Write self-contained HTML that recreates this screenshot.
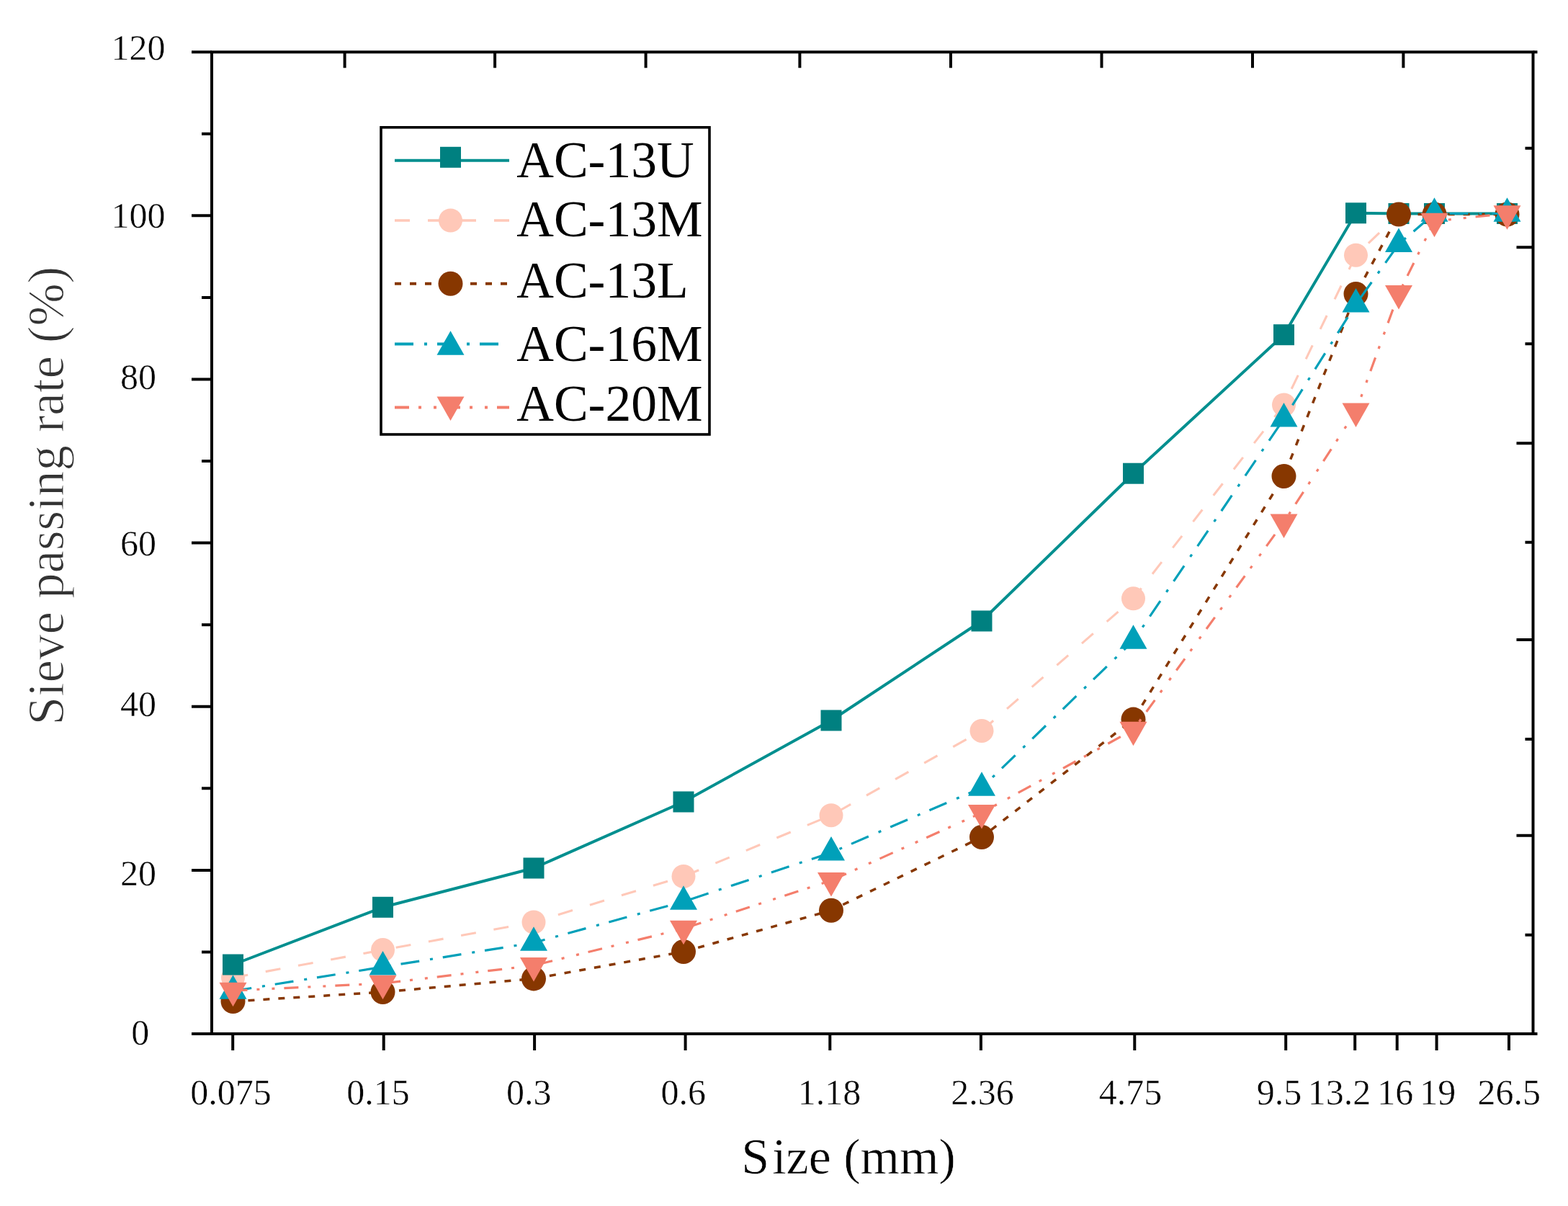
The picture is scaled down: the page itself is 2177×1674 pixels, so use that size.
<!DOCTYPE html>
<html><head><meta charset="utf-8"><title>Sieve passing rate</title>
<style>html,body{margin:0;padding:0;background:#fff;overflow:hidden;}svg{display:block;}text{font-family:"Liberation Serif","Times New Roman",serif;fill:#000;}</style>
</head><body>
<svg width="2177" height="1674" viewBox="0 0 2177 1674">
<rect width="100%" height="100%" fill="#fff"/>
<path d="M294,72.2H2128.5V1435H294Z" fill="none" stroke="#000" stroke-width="4" stroke-linejoin="miter"/>
<path d="M2128.5,72.2H2134.5M2128.5,1435H2134.5" stroke="#000" stroke-width="4" fill="none"/>
<path d="M266,1435.0H294M280,1321.4H294M266,1207.9H294M280,1094.3H294M266,980.7H294M280,867.2H294M266,753.6H294M280,640.0H294M266,526.5H294M280,412.9H294M266,299.3H294M280,185.8H294M266,72.2H294" stroke="#000" stroke-width="4" fill="none"/>
<path d="M2105.5,343.3H2128.5M2105.5,615.2H2128.5M2105.5,887.9H2128.5M2105.5,1159.8H2128.5M2117.5,205.7H2128.5M2117.5,477.2H2128.5M2117.5,752.8H2128.5M2117.5,1025.9H2128.5M2117.5,1297.8H2128.5" stroke="#000" stroke-width="4" fill="none"/>
<path d="M478.6,72.2V94.2M687.1,72.2V94.2M896.6,72.2V94.2M1110.4,72.2V94.2M1320,72.2V94.2M1529.5,72.2V94.2M1739,72.2V94.2M1948.4,72.2V94.2" stroke="#000" stroke-width="4" fill="none"/>
<path d="M323.2,1435V1458M532.7,1435V1458M742.1,1435V1458M951.6,1435V1458M1152.3,1435V1458M1361.9,1435V1458M1575.3,1435V1458M1785.2,1435V1458M1881.2,1435V1458M1939.7,1435V1458M1994.6,1435V1458M2095,1435V1458" stroke="#000" stroke-width="4" fill="none"/>
<g font-size="50" text-anchor="middle" stroke="#fff" stroke-width="0.45">
<text x="194.7" y="1450.3">0</text>
<text x="192" y="1229.2">20</text>
<text x="192" y="994.1">40</text>
<text x="192" y="771.1">60</text>
<text x="192" y="539.8">80</text>
<text x="192" y="316.2">100</text>
<text x="192" y="83.3">120</text>
<text x="320.5" y="1532.9">0.075</text>
<text x="525" y="1532.9">0.15</text>
<text x="734.2" y="1532.9">0.3</text>
<text x="948.7" y="1532.9">0.6</text>
<text x="1151.5" y="1532.9">1.18</text>
<text x="1364" y="1532.9">2.36</text>
<text x="1569.4" y="1532.9">4.75</text>
<text x="1775.9" y="1532.9">9.5</text>
<text x="1859.6" y="1532.9">13.2</text>
<text x="1937.3" y="1532.9">16</text>
<text x="1996.3" y="1532.9">19</text>
<text x="2095.3" y="1532.9">26.5</text>
</g>
<text x="1178" y="1628.6" font-size="70" text-anchor="middle" stroke="#fff" stroke-width="0.6" dx="0 4">Size (mm)</text>
<text transform="translate(87.7,688.2) rotate(-90)" font-size="71" text-anchor="middle" stroke="#fff" stroke-width="1.1" style="fill:#333">Sieve passing rate (%)</text>
<polyline points="323.5,1357.0 531.5,1318.6 741.0,1280.0 949.0,1216.5 1154.0,1131.7 1363.0,1014.4 1573.5,830.8 1782.5,562.0 1882.5,354.2 1942.0,297.5 1991.5,297.5 2092.5,297.5" fill="none" stroke="#ffc8b8" stroke-width="3.1" stroke-dasharray="21 25" stroke-linejoin="round"/>
<circle cx="323.5" cy="1357.0" r="16.5" fill="#ffc8b8"/>
<circle cx="531.5" cy="1318.6" r="16.5" fill="#ffc8b8"/>
<circle cx="741.0" cy="1280.0" r="16.5" fill="#ffc8b8"/>
<circle cx="949.0" cy="1216.5" r="16.5" fill="#ffc8b8"/>
<circle cx="1154.0" cy="1131.7" r="16.5" fill="#ffc8b8"/>
<circle cx="1363.0" cy="1014.4" r="16.5" fill="#ffc8b8"/>
<circle cx="1573.5" cy="830.8" r="16.5" fill="#ffc8b8"/>
<circle cx="1782.5" cy="562.0" r="16.5" fill="#ffc8b8"/>
<circle cx="1882.5" cy="354.2" r="16.5" fill="#ffc8b8"/>
<circle cx="1942.0" cy="297.5" r="16.5" fill="#ffc8b8"/>
<circle cx="1991.5" cy="297.5" r="16.5" fill="#ffc8b8"/>
<circle cx="2092.5" cy="297.5" r="16.5" fill="#ffc8b8"/>
<polyline points="323.5,1339.0 531.5,1259.3 741.0,1205.0 949.0,1113.0 1154.0,1000.0 1363.0,862.0 1573.5,657.2 1782.5,464.7 1882.5,295.8 1942.0,296.5 1991.5,296.5 2092.5,296.5" fill="none" stroke="#008f8f" stroke-width="4" stroke-linejoin="round"/>
<rect x="309.0" y="1324.5" width="29" height="29" fill="#008080"/>
<rect x="517.0" y="1244.8" width="29" height="29" fill="#008080"/>
<rect x="726.5" y="1190.5" width="29" height="29" fill="#008080"/>
<rect x="934.5" y="1098.5" width="29" height="29" fill="#008080"/>
<rect x="1139.5" y="985.5" width="29" height="29" fill="#008080"/>
<rect x="1348.5" y="847.5" width="29" height="29" fill="#008080"/>
<rect x="1559.0" y="642.7" width="29" height="29" fill="#008080"/>
<rect x="1768.0" y="450.2" width="29" height="29" fill="#008080"/>
<rect x="1868.0" y="281.3" width="29" height="29" fill="#008080"/>
<rect x="1927.5" y="282.0" width="29" height="29" fill="#008080"/>
<rect x="1977.0" y="282.0" width="29" height="29" fill="#008080"/>
<rect x="2078.0" y="282.0" width="29" height="29" fill="#008080"/>
<polyline points="323.5,1390.0 531.5,1377.0 741.0,1358.4 949.0,1321.0 1154.0,1263.7 1363.0,1162.0 1573.5,998.6 1782.5,661.0 1882.5,408.0 1942.0,297.5 1991.5,297.5 2092.5,297.5" fill="none" stroke="#873700" stroke-width="3.5" stroke-dasharray="9 12" stroke-linejoin="round"/>
<circle cx="323.5" cy="1390.0" r="17" fill="#873700"/>
<circle cx="531.5" cy="1377.0" r="17" fill="#873700"/>
<circle cx="741.0" cy="1358.4" r="17" fill="#873700"/>
<circle cx="949.0" cy="1321.0" r="17" fill="#873700"/>
<circle cx="1154.0" cy="1263.7" r="17" fill="#873700"/>
<circle cx="1363.0" cy="1162.0" r="17" fill="#873700"/>
<circle cx="1573.5" cy="998.6" r="17" fill="#873700"/>
<circle cx="1782.5" cy="661.0" r="17" fill="#873700"/>
<circle cx="1882.5" cy="408.0" r="17" fill="#873700"/>
<circle cx="1942.0" cy="297.5" r="17" fill="#873700"/>
<circle cx="1991.5" cy="297.5" r="17" fill="#873700"/>
<circle cx="2092.5" cy="297.5" r="17" fill="#873700"/>
<polyline points="323.5,1375.6 531.5,1342.2 741.0,1308.5 949.0,1251.5 1154.0,1183.4 1363.0,1093.5 1573.5,889.5 1782.5,581.3 1882.5,422.4 1942.0,338.8 1991.5,296.5 2092.5,296.5" fill="none" stroke="#00a0b9" stroke-width="3.2" stroke-dasharray="26 15 4 14" stroke-linejoin="round"/>
<path d="M323.5,1353.3L342.5,1386.8L304.5,1386.8Z" fill="#00a0b9"/>
<path d="M531.5,1319.9L550.5,1353.4L512.5,1353.4Z" fill="#00a0b9"/>
<path d="M741.0,1286.2L760.0,1319.7L722.0,1319.7Z" fill="#00a0b9"/>
<path d="M949.0,1229.2L968.0,1262.7L930.0,1262.7Z" fill="#00a0b9"/>
<path d="M1154.0,1161.1L1173.0,1194.6L1135.0,1194.6Z" fill="#00a0b9"/>
<path d="M1363.0,1071.2L1382.0,1104.7L1344.0,1104.7Z" fill="#00a0b9"/>
<path d="M1573.5,867.2L1592.5,900.7L1554.5,900.7Z" fill="#00a0b9"/>
<path d="M1782.5,559.0L1801.5,592.5L1763.5,592.5Z" fill="#00a0b9"/>
<path d="M1882.5,400.1L1901.5,433.6L1863.5,433.6Z" fill="#00a0b9"/>
<path d="M1942.0,316.5L1961.0,350.0L1923.0,350.0Z" fill="#00a0b9"/>
<path d="M1991.5,274.2L2010.5,307.7L1972.5,307.7Z" fill="#00a0b9"/>
<path d="M2092.5,274.2L2111.5,307.7L2073.5,307.7Z" fill="#00a0b9"/>
<polyline points="323.5,1375.0 531.5,1365.0 741.0,1340.1 949.0,1289.0 1154.0,1222.2 1363.0,1128.2 1573.5,1013.0 1782.5,724.7 1882.5,570.8 1942.0,407.3 1991.5,307.0 2092.5,296.4" fill="none" stroke="#f47e6c" stroke-width="3.2" stroke-dasharray="20 13 4 17 4 13" stroke-linejoin="round"/>
<path d="M304.5,1363.8L342.5,1363.8L323.5,1397.3Z" fill="#f47e6c"/>
<path d="M512.5,1353.8L550.5,1353.8L531.5,1387.3Z" fill="#f47e6c"/>
<path d="M722.0,1328.9L760.0,1328.9L741.0,1362.4Z" fill="#f47e6c"/>
<path d="M930.0,1277.8L968.0,1277.8L949.0,1311.3Z" fill="#f47e6c"/>
<path d="M1135.0,1211.0L1173.0,1211.0L1154.0,1244.5Z" fill="#f47e6c"/>
<path d="M1344.0,1117.0L1382.0,1117.0L1363.0,1150.5Z" fill="#f47e6c"/>
<path d="M1554.5,1001.8L1592.5,1001.8L1573.5,1035.3Z" fill="#f47e6c"/>
<path d="M1763.5,713.5L1801.5,713.5L1782.5,747.0Z" fill="#f47e6c"/>
<path d="M1863.5,559.6L1901.5,559.6L1882.5,593.1Z" fill="#f47e6c"/>
<path d="M1923.0,396.1L1961.0,396.1L1942.0,429.6Z" fill="#f47e6c"/>
<path d="M1972.5,295.8L2010.5,295.8L1991.5,329.3Z" fill="#f47e6c"/>
<path d="M2073.5,285.2L2111.5,285.2L2092.5,318.7Z" fill="#f47e6c"/>
<rect x="529" y="176.8" width="456" height="426.2" fill="none" stroke="#000" stroke-width="3.6"/>
<path d="M548,222.7H707" stroke="#008f8f" stroke-width="4" fill="none"/>
<rect x="611.0" y="203.8" width="29" height="29" fill="#008080"/>
<text x="717.3" y="246" font-size="71.5">AC-13U</text>
<path d="M548,305.9H707" stroke="#ffc8b8" stroke-width="3.5" stroke-dasharray="21 25" fill="none"/>
<circle cx="625.5" cy="306.0" r="16.5" fill="#ffc8b8"/>
<text x="717.3" y="328.3" font-size="71.5">AC-13M</text>
<path d="M548,393.8H707" stroke="#873700" stroke-width="4" stroke-dasharray="9 12" fill="none"/>
<circle cx="625.5" cy="393.8" r="17" fill="#873700"/>
<text x="717.3" y="413" font-size="71.5">AC-13L</text>
<path d="M548,477.6H707" stroke="#00a0b9" stroke-width="4" stroke-dasharray="26 15 4 14" fill="none"/>
<path d="M625.5,459.2L644.5,492.7L606.5,492.7Z" fill="#00a0b9"/>
<text x="717.3" y="500.5" font-size="71.5">AC-16M</text>
<path d="M548,565.4H707" stroke="#f47e6c" stroke-width="4" stroke-dasharray="20 13 4 17 4 13" fill="none"/>
<path d="M606.5,550.4L644.5,550.4L625.5,583.9Z" fill="#f47e6c"/>
<text x="717.3" y="583.7" font-size="71.5">AC-20M</text>
</svg>
</body></html>
